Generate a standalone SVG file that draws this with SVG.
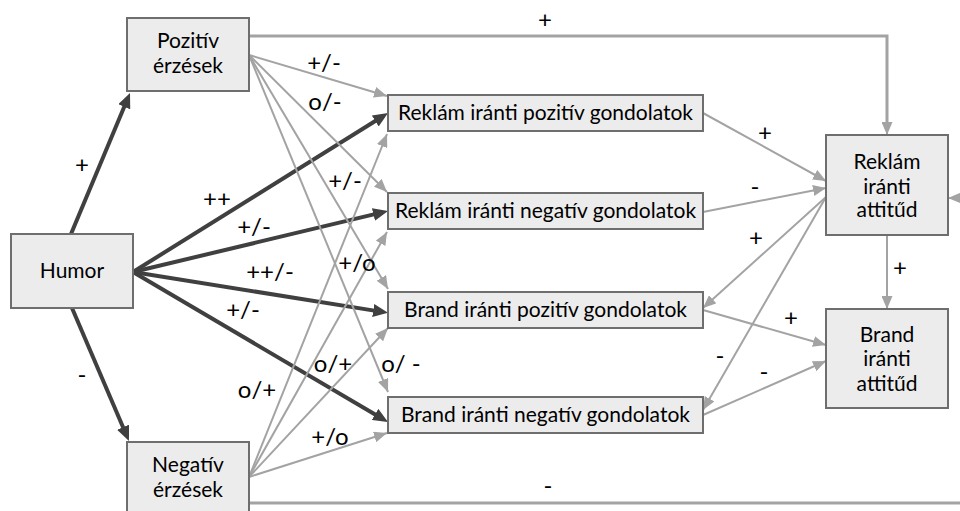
<svg xmlns="http://www.w3.org/2000/svg" width="960" height="511" viewBox="0 0 960 511">
  <style>
    .box { fill: #ececec; stroke: #6e6e6e; stroke-width: 2; }
    .t { font-family: Lato, "Liberation Sans", sans-serif; font-size: 21px; fill: #000; text-anchor: middle; }
    .lbl { font-family: Lato, "Liberation Sans", sans-serif; font-size: 24px; fill: #000; text-anchor: middle; }
    .dk { stroke: #404040; stroke-width: 4; fill: none; marker-end: url(#ad); }
    .gr { stroke: #a3a3a3; stroke-width: 2; fill: none; marker-end: url(#ag); }
    .gw { stroke: #a3a3a3; stroke-width: 3; fill: none; }
  </style>
  <defs>
    <marker id="ag" markerUnits="userSpaceOnUse" markerWidth="13" markerHeight="11" viewBox="0 0 13 11" refX="13" refY="5.5" orient="auto">
      <path d="M0,0 L13,5.5 L0,11 z" fill="#a3a3a3"/>
    </marker>
    <marker id="ad" markerUnits="userSpaceOnUse" markerWidth="15" markerHeight="13" viewBox="0 0 15 13" refX="9" refY="6.5" orient="auto">
      <path d="M0,0 L15,6.5 L0,13 z" fill="#404040"/>
    </marker>
  </defs>

  <!-- connectors -->
  <g id="connectors">
    <!-- Humor to feelings -->
    <path class="dk" d="M71,234 L127.7,98.5"/>
    <path class="dk" d="M72,308 L126.6,435.5"/>
    <!-- Humor to thoughts -->
    <path class="dk" d="M133,272 L382.9,116.2"/>
    <path class="dk" d="M133,272 L382.2,212.4"/>
    <path class="dk" d="M133,272 L382.1,311.9"/>
    <path class="dk" d="M133,272 L382.8,419"/>

    <!-- positive feelings fan -->
    <path class="gr" d="M249,55 L387,96"/>
    <path class="gr" d="M249,55 L387,192"/>
    <path class="gr" d="M249,55 L388,289"/>
    <path class="gr" d="M249,55 L388,392"/>

    <!-- negative feelings fan -->
    <path class="gr" d="M249,477 L387,134"/>
    <path class="gr" d="M249,477 L387,232"/>
    <path class="gr" d="M249,477 L388,328"/>
    <path class="gr" d="M249,477 L387,433"/>

    <!-- positive feelings to ad attitude -->
    <path class="gw" d="M249,36 L887,36 L887,122" />
    <path class="gr" d="M887,120 L887,135"/>
    <!-- negative feelings, long return line -->
    <path class="gw" d="M249,503 L960,503"/>
    <path class="gr" d="M975,198 L948,198"/>

    <!-- thoughts to attitudes -->
    <path class="gr" d="M703,113 L826,181"/>
    <path class="gr" d="M703,212 L826,188"/>
    <path class="gr" d="M826,197 L703,308"/>
    <path class="gr" d="M826,197 L703,410"/>
    <path class="gr" d="M703,310 L826,345"/>
    <path class="gr" d="M703,415 L826,361"/>
    <path class="gr" d="M887,235 L887,309"/>
  </g>

  <!-- edge labels -->
  <g id="labels">
    <text class="lbl" x="545" y="28">+</text>
    <text class="lbl" x="82" y="173">+</text>
    <text class="lbl" x="82" y="383">-</text>
    <text class="lbl" x="324" y="71">+/-</text>
    <text class="lbl" x="325" y="110">o/-</text>
    <text class="lbl" x="345" y="189">+/-</text>
    <text class="lbl" x="217" y="207">++</text>
    <text class="lbl" x="254" y="235">+/-</text>
    <text class="lbl" x="270" y="280">++/-</text>
    <text class="lbl" x="243" y="318">+/-</text>
    <text class="lbl" x="357" y="271">+/o</text>
    <text class="lbl" x="257" y="398">o/+</text>
    <text class="lbl" x="333" y="372">o/+</text>
    <text class="lbl" x="401" y="372">o/ -</text>
    <text class="lbl" x="330" y="445">+/o</text>
    <text class="lbl" x="765" y="141">+</text>
    <text class="lbl" x="755" y="195">-</text>
    <text class="lbl" x="756" y="246">+</text>
    <text class="lbl" x="791" y="326">+</text>
    <text class="lbl" x="720" y="364">-</text>
    <text class="lbl" x="764" y="380">-</text>
    <text class="lbl" x="900" y="276">+</text>
    <text class="lbl" x="548" y="494">-</text>
  </g>

  <!-- nodes -->
  <g id="humor">
    <rect class="box" x="11" y="234" width="122" height="74"/>
    <text class="t" x="72" y="278">Humor</text>
  </g>
  <g id="pozitiv-erzesek">
    <rect class="box" x="127" y="18" width="122" height="73"/>
    <text class="t" x="188" y="48">Pozitív</text>
    <text class="t" x="188" y="73">érzések</text>
  </g>
  <g id="negativ-erzesek">
    <rect class="box" x="127" y="442" width="122" height="80"/>
    <text class="t" x="188" y="472">Negatív</text>
    <text class="t" x="188" y="497">érzések</text>
  </g>
  <g id="reklam-pozitiv">
    <rect class="box" x="388" y="95" width="315" height="36"/>
    <text class="t" x="545.5" y="120">Reklám iránti pozitív gondolatok</text>
  </g>
  <g id="reklam-negativ">
    <rect class="box" x="388" y="193" width="315" height="36"/>
    <text class="t" x="545.5" y="218">Reklám iránti negatív gondolatok</text>
  </g>
  <g id="brand-pozitiv">
    <rect class="box" x="388" y="292" width="315" height="36"/>
    <text class="t" x="545.5" y="317">Brand iránti pozitív gondolatok</text>
  </g>
  <g id="brand-negativ">
    <rect class="box" x="388" y="397" width="315" height="36"/>
    <text class="t" x="545.5" y="422">Brand iránti negatív gondolatok</text>
  </g>
  <g id="reklam-attitud">
    <rect class="box" x="826" y="135" width="122" height="100"/>
    <text class="t" x="887" y="169">Reklám</text>
    <text class="t" x="887" y="194">iránti</text>
    <text class="t" x="887" y="217">attitűd</text>
  </g>
  <g id="brand-attitud">
    <rect class="box" x="826" y="309" width="122" height="99"/>
    <text class="t" x="887" y="342">Brand</text>
    <text class="t" x="887" y="366">iránti</text>
    <text class="t" x="887" y="391">attitűd</text>
  </g>
</svg>
